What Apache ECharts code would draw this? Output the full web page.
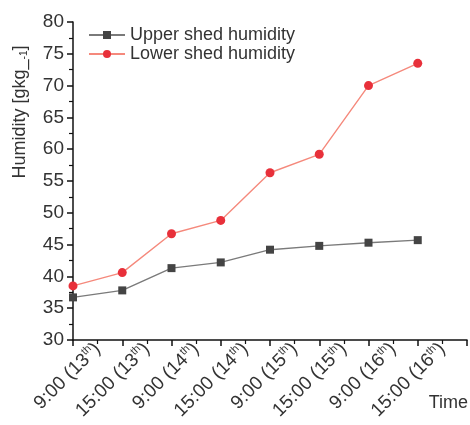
<!DOCTYPE html>
<html>
<head>
<meta charset="utf-8">
<script src="https://cdn.jsdelivr.net/npm/echarts@6/dist/echarts.min.js"></script>
<style>
html,body{margin:0;padding:0;background:#fff;}
#chart{width:470px;height:425px;}
</style>
</head>
<body>
<div id="chart"></div>
<script>
// ---- data ----
const timeLabels = ['9:00 (13{sup|th})', '15:00 (13{sup|th})', '9:00 (14{sup|th})', '15:00 (14{sup|th})',
                    '9:00 (15{sup|th})', '15:00 (15{sup|th})', '9:00 (16{sup|th})', '15:00 (16{sup|th})'];
const upperHumidity = [36.7, 37.8, 41.3, 42.2, 44.2, 44.8, 45.3, 45.7];
const lowerHumidity = [38.5, 40.6, 46.7, 48.8, 56.3, 59.2, 70.0, 73.5];
const seriesNames = ['Upper shed humidity', 'Lower shed humidity'];
const yTicks = {min: 30, max: 80, interval: 5};
const xTitle = 'Time';

const FONT = 'Liberation Sans, Arial, Helvetica, sans-serif';
const chart = echarts.init(document.getElementById('chart'), null, {renderer: 'canvas'});

const toPairs = arr => arr.map((v, i) => [i, v]);

chart.setOption({
  backgroundColor: '#ffffff',
  animation: false,
  textStyle: {fontFamily: FONT},
  grid: {left: 73, right: 3, top: 22, bottom: 85, containLabel: false},
  legend: {
    orient: 'vertical', left: 88, top: 26, padding: 0,
    itemWidth: 36, itemHeight: 10, itemGap: 1,
    textStyle: {fontSize: 18, color: '#333', fontFamily: FONT, lineHeight: 18},
    data: seriesNames
  },
  graphic: [{
    type: 'text', right: 2, top: 394,
    style: {text: xTitle, fontSize: 18, fill: '#333', font: '18px ' + FONT}
  }],
  xAxis: [{
    type: 'value', min: 0, max: timeLabels.length, interval: 1,
    axisLine: {show: true, lineStyle: {color: '#111', width: 1.5}},
    axisTick: {show: true, length: 6, lineStyle: {color: '#111', width: 1.5}},
    minorTick: {show: true, splitNumber: 2, length: 4, lineStyle: {color: '#111', width: 1.2}},
    axisLabel: {show: false},
    splitLine: {show: false}
  }, {
    type: 'category', data: timeLabels, boundaryGap: true, position: 'bottom',
    axisLine: {show: false}, axisTick: {show: false},
    axisLabel: {
      interval: 0, rotate: 45, margin: 6, fontSize: 19, color: '#333', fontFamily: FONT,
      rich: {sup: {fontSize: 11, color: '#333', padding: [0, 0, 10, 0], fontFamily: FONT}}
    },
    splitLine: {show: false}
  }],
  yAxis: {
    type: 'value', min: yTicks.min, max: yTicks.max, interval: yTicks.interval,
    name: 'Humidity [gkg_{sub|-1}]', nameLocation: 'middle', nameGap: 44, nameRotate: 90,
    nameTextStyle: {fontSize: 18, color: '#333', fontFamily: FONT, padding: [0, 0, 0, 138],
      rich: {sub: {fontSize: 10, color: '#333', padding: [8, 0, 0, 0], fontFamily: FONT}}},
    axisLine: {show: true, lineStyle: {color: '#111', width: 1.5}},
    axisTick: {show: true, length: 6, lineStyle: {color: '#111', width: 1.5}},
    minorTick: {show: true, splitNumber: 2, length: 4, lineStyle: {color: '#111', width: 1.2}},
    axisLabel: {fontSize: 19, color: '#333', margin: 9, fontFamily: FONT},
    splitLine: {show: false}
  },
  series: [{
    name: seriesNames[0], type: 'line', xAxisIndex: 0,
    data: toPairs(upperHumidity),
    symbol: 'rect', symbolSize: 8,
    lineStyle: {color: '#7a7a7a', width: 1.4},
    itemStyle: {color: '#444444'}
  }, {
    name: seriesNames[1], type: 'line', xAxisIndex: 0,
    data: toPairs(lowerHumidity),
    symbol: 'circle', symbolSize: 9,
    lineStyle: {color: '#f5897c', width: 1.4},
    itemStyle: {color: '#e8303a'}
  }]
});
</script>
</body>
</html>
